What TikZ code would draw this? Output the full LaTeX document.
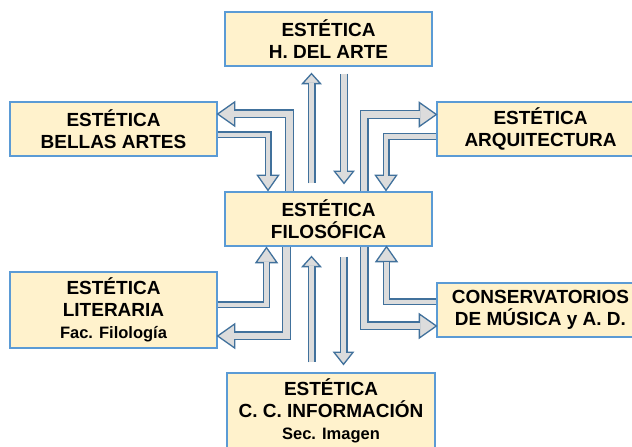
\documentclass[tikz,border=0pt]{standalone}
\usepackage{fontspec}
\setmainfont{Liberation Sans}
\usetikzlibrary{calc}
\definecolor{boxfill}{HTML}{FFF2CC}
\definecolor{boxline}{HTML}{5B9BD5}
\definecolor{arrline}{HTML}{41719C}
\definecolor{arrfill}{HTML}{DCDCDC}
% punta de flecha: punta, angulo, largo, semiancho
\newcommand{\ahead}[4]{\filldraw[fill=arrfill,draw=arrline,line width=1.3pt,line join=miter,shift={(#1)},rotate=#2] (0,0)--(-#3,#4)--(-#3,-#4)--cycle;}
\begin{document}
\begin{tikzpicture}[x=1pt,y=1pt,
  caja/.style={draw=boxline,fill=boxfill,line width=1.3pt,minimum width=207pt,minimum height=54pt,inner sep=0pt,align=center,font=\bfseries\fontsize{19}{22}\selectfont},
  gruesa/.style={draw=arrline,double=arrfill,line width=1.3pt,double distance=6.4pt},
  media/.style={draw=arrline,double=arrfill,line width=1.3pt,double distance=5.4pt},
  fina/.style={draw=arrline,double=arrfill,line width=1.3pt,double distance=4.4pt}]
\useasboundingbox (0,0) rectangle (632,447);

\node[caja] (hist) at (328.5,408) {ESTÉTICA\\H. DEL ARTE};
\node[caja] (bellas) at (113.5,318) {ESTÉTICA\\BELLAS ARTES};
\node[caja] (arq) at (540.5,318) {ESTÉTICA\\ARQUITECTURA};
\node[caja] (filo) at (328.5,228) {ESTÉTICA\\FILOSÓFICA};
\node[caja,minimum height=76pt] (lit) at (113.5,137) {ESTÉTICA\\LITERARIA\\{\fontsize{16.5}{20}\selectfont Fac. Filología}};
\node[caja] (cons) at (540.5,137) {CONSERVATORIOS\\DE MÚSICA y A. D.};
\node[caja,minimum width=208pt,minimum height=76pt] (info) at (331,36) {ESTÉTICA\\C. C. INFORMACIÓN\\{\fontsize{16.5}{20}\selectfont Sec. Imagen}};

% flechas centrales
\ahead{$(filo.north)+(15.5,8)$}{270}{12}{9.5}
\draw[media] ($(hist.south)+(15.5,-7)$) -- ($(filo.north)+(15.5,19.2)$);
\ahead{$(hist.south)+(-17,-7)$}{90}{10}{9}
\draw[media] ($(filo.north)+(-17,8)$) -- ($(hist.south)+(-17,-16.2)$);
\ahead{$(info.north)+(12.5,8)$}{270}{12}{9.5}
\draw[media] ($(filo.south)+(15,-10)$) -- ($(info.north)+(12.5,19.2)$);
\ahead{$(filo.south)+(-17,-10)$}{90}{10}{9}
\draw[media] ($(info.north)+(-19.5,10)$) -- ($(filo.south)+(-17,-19.2)$);

% flechas en angulo
\ahead{$(bellas.east)+(0,15)$}{180}{17}{12}
\draw[gruesa] ($(filo.north)+(-39,0)$) |- ($(bellas.east)+(16.2,15)$);
\ahead{$(filo.north)+(-60.5,1)$}{270}{15}{10.5}
\draw[fina] ($(bellas.east)+(0,-6)$) -| ($(filo.north)+(-60.5,15.2)$);
\ahead{$(arq.west)+(0,14.5)$}{0}{17}{12}
\draw[gruesa] ($(filo.north)+(35.5,0)$) |- ($(arq.west)+(-16.2,14.5)$);
\ahead{$(filo.north)+(57.5,1)$}{270}{15}{10.5}
\draw[fina] ($(arq.west)+(0,-7.5)$) -| ($(filo.north)+(57.5,15.2)$);
\ahead{$(filo.south)+(-62,-1)$}{90}{15}{10.5}
\draw[fina] ($(lit.east)+(0,5)$) -| ($(filo.south)+(-62,-15.2)$);
\ahead{$(lit.east)+(0,-26)$}{180}{17}{12}
\draw[gruesa] ($(filo.south)+(-42,0)$) |- ($(lit.east)+(16.2,-26)$);
\ahead{$(cons.west)+(0,-16)$}{0}{17}{12}
\draw[gruesa] ($(filo.south)+(35.5,0)$) |- ($(cons.west)+(-16.2,-16)$);
\ahead{$(filo.south)+(58,0)$}{90}{15}{10.5}
\draw[fina] ($(cons.west)+(0,8)$) -| ($(filo.south)+(58,-15.2)$);
\end{tikzpicture}
\end{document}
